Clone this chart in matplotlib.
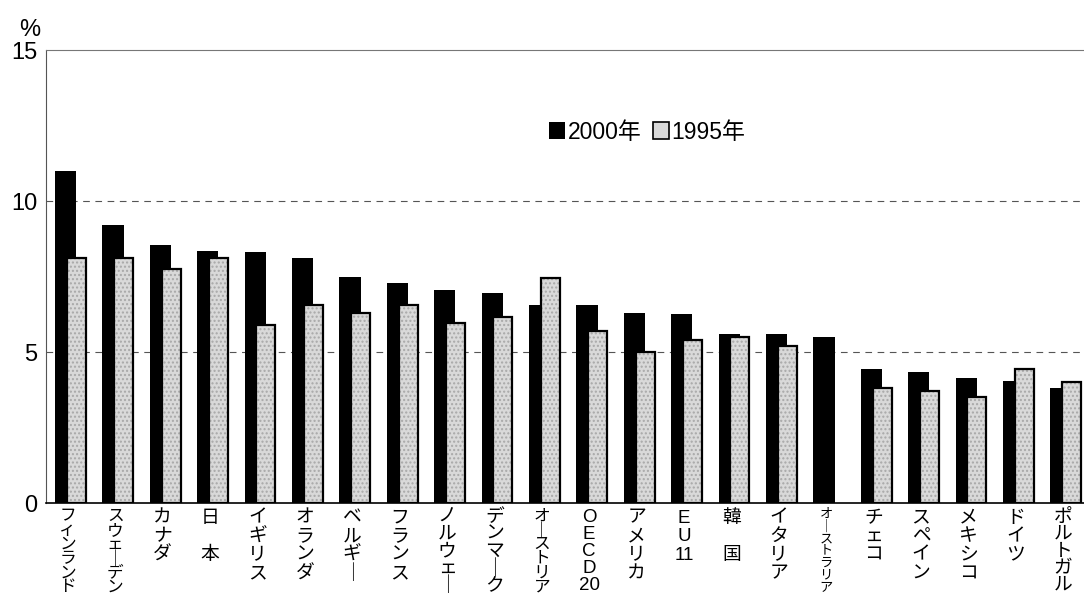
import matplotlib.pyplot as plt
import numpy as np
from matplotlib.patches import Patch

plt.rcParams["font.family"] = ["Liberation Sans", "Noto Sans CJK JP", "DejaVu Sans"]

countries = [
    "フィンランド", "スウェーデン", "カナダ", "日　本", "イギリス", "オランダ",
    "ベルギー", "フランス", "ノルウェー", "デンマーク", "オーストリア", "OECD20",
    "アメリカ", "EU11", "韓　国", "イタリア", "オーストラリア", "チェコ",
    "スペイン", "メキシコ", "ドイツ", "ポルトガル",
]
v2000 = [11.0, 9.2, 8.55, 8.35, 8.3, 8.1, 7.5, 7.3, 7.05, 6.95, 6.55, 6.55,
         6.3, 6.25, 5.6, 5.6, 5.5, 4.45, 4.35, 4.15, 4.05, 3.8]
v1995 = [8.1, 8.1, 7.75, 8.1, 5.9, 6.55, 6.3, 6.55, 5.95, 6.15, 7.45, 5.7,
         5.0, 5.4, 5.5, 5.2, np.nan, 3.8, 3.7, 3.5, 4.45, 4.0]


def vertical(name):
    # 縦書き風のラベル
    if name == "OECD20":
        return ["O", "E", "C", "D", "20"]
    if name == "EU11":
        return ["E", "U", "11"]
    return ["｜" if ch == "ー" else ch for ch in name]


x = np.arange(len(countries))

fig = plt.figure(figsize=(10.84, 5.96), dpi=100)
ax = fig.add_axes([0.0424, 0.156, 0.9576, 0.76])

ax.bar(x - 0.22, v2000, width=0.45, align="edge", color="black", zorder=2)
ax.bar(x + 0.03, v1995, width=0.40, align="edge", color="#d9d9d9",
       edgecolor="#a8a8a8", hatch="....", linewidth=0, zorder=3)
ax.bar(x + 0.03, v1995, width=0.40, align="edge", fill=False,
       edgecolor="black", linewidth=1.6, zorder=4)

ax.set_xlim(-0.41, 21.49)
ax.set_ylim(0, 15)
ax.set_yticks([0, 5, 10, 15])
ax.tick_params(axis="y", labelsize=17, length=0, pad=6)
for y in [5, 10]:
    ax.axhline(y, color="#555555", linestyle=(0, (6, 5)), linewidth=0.8, zorder=1)

# x軸ラベル（文字を縦に並べる）
ax.set_xticks([])
fig.canvas.draw()
top = (596 - 509) / 596
for i, name in enumerate(countries):
    chars = vertical(name)
    n = len(chars)
    size = 13.5 if n <= 5 else (12 if n == 6 else 9.5)
    step = min(18.5, 85.0 / n) / 596
    xpos = ax.transData.transform((i + 0.05, 0))[0] / fig.bbox.width
    for k, ch in enumerate(chars):
        fig.text(xpos, top - (k + 0.5) * step, ch, fontsize=size,
                 ha="center", va="center")

ax.spines["right"].set_visible(False)
ax.spines["top"].set_color("#777777")
ax.spines["top"].set_linewidth(0.8)
ax.spines["left"].set_color("#555555")
ax.spines["bottom"].set_linewidth(1.2)

fig.text(0.018, 0.94, "%", fontsize=17)

handles = [Patch(facecolor="black"),
           Patch(facecolor="#d9d9d9", edgecolor="black", linewidth=1.2)]
ax.legend(handles, ["2000年", "1995年"], ncol=2, frameon=False, fontsize=16.5,
          loc="upper left", bbox_to_anchor=(0.465, 0.89), handlelength=0.7,
          handleheight=0.7, handletextpad=0.1, columnspacing=0.5)

fig.savefig("out.png", dpi=100)
